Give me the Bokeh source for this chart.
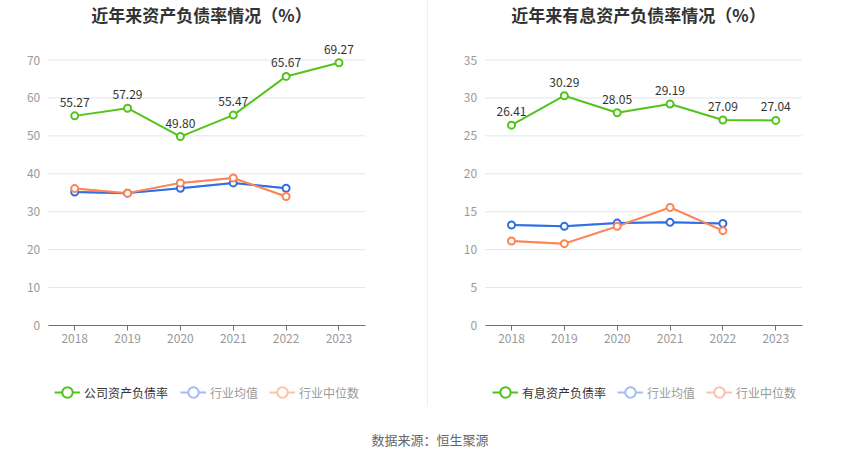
from bokeh.plotting import figure
from bokeh.models import (ColumnDataSource, LabelSet, Label, Legend, LegendItem,
                          Range1d, Div, FixedTicker)
from bokeh.layouts import row, column
from bokeh.core.properties import value
from bokeh.embed import file_html
from bokeh.resources import INLINE

years = ["2018", "2019", "2020", "2021", "2022", "2023"]
peer_years = ["2018", "2019", "2020", "2021", "2022"]

debt_ratio = [55.27, 57.29, 49.80, 55.47, 65.67, 69.27]
debt_avg = [35.2, 34.9, 36.2, 37.6, 36.2]
debt_median = [36.1, 34.9, 37.6, 38.9, 34.0]

int_ratio = [26.41, 30.29, 28.05, 29.19, 27.09, 27.04]
int_avg = [13.25, 13.07, 13.5, 13.6, 13.46]
int_median = [11.14, 10.79, 13.07, 15.57, 12.5]

FONT = "Noto Sans CJK SC"
GREEN = "#52c41a"
BLUE = "#2f6fe4"
ORANGE = "#ff8453"
LIGHT_BLUE = "#a3bcf3"
LIGHT_ORANGE = "#ffc0a9"

W, H = 425, 425
BAND = 52.85
FRAME_H = 265.5
ZERO_Y = 325.0


def make_chart(title, main_name, main, avg, med, ymax, step, ox, title_cx, legend_x, divider):
    unit = FRAME_H / ymax
    xd = lambda px: (px - ox) / BAND
    yd = lambda py: (ZERO_Y - py) / unit
    p = figure(width=W, height=H, x_range=Range1d(xd(0), xd(W)), y_range=Range1d(yd(H), yd(0)),
               output_backend="svg", toolbar_location=None,
               min_border=0, min_border_left=0, min_border_right=0,
               min_border_top=0, min_border_bottom=0)
    p.outline_line_color = None
    p.xgrid.visible = False
    p.ygrid.visible = False

    idx = list(range(len(years)))
    pidx = [years.index(y) for y in peer_years]
    yticks = list(range(0, ymax + 1, step))

    # horizontal grid lines across the category span
    p.segment(x0=[-0.5] * len(yticks), x1=[len(years) - 0.5] * len(yticks),
              y0=yticks, y1=yticks, line_color="#e0e6f1", line_width=1)

    xa = p.xaxis[0]
    xa.fixed_location = 0
    xa.bounds = (-0.5, len(years) - 0.5)
    xa.ticker = FixedTicker(ticks=idx)
    xa.major_label_overrides = {i: y for i, y in zip(idx, years)}
    xa.axis_line_color = "#6e7079"
    xa.major_tick_line_color = "#6e7079"
    xa.minor_tick_line_color = None
    xa.major_tick_out = 5
    xa.major_tick_in = 0
    xa.major_label_standoff = 3

    ya = p.yaxis[0]
    ya.fixed_location = -0.5
    ya.bounds = (0, ymax)
    ya.ticker = FixedTicker(ticks=yticks)
    ya.axis_line_color = None
    ya.major_tick_line_color = None
    ya.minor_tick_line_color = None
    ya.major_tick_out = 0
    ya.major_tick_in = 0
    ya.major_label_standoff = 8
    for ax in (xa, ya):
        ax.major_label_text_color = "#999999"
        ax.major_label_text_font_size = "12px"
        ax.major_label_text_font = FONT

    # faded line copies used only for the legend (hidden beneath the real lines)
    la_l = p.line(pidx, avg, line_color=LIGHT_BLUE, line_width=2)
    lm_l = p.line(pidx, med, line_color=LIGHT_ORANGE, line_width=2)

    # peer lines
    p.line(pidx, avg, line_color=BLUE, line_width=2)
    p.scatter(pidx, avg, marker="circle", size=7, fill_color="white",
              line_color=BLUE, line_width=2)
    p.line(pidx, med, line_color=ORANGE, line_width=2)
    p.scatter(pidx, med, marker="circle", size=7, fill_color="white",
              line_color=ORANGE, line_width=2)
    # main line
    mn_l = p.line(idx, main, line_color=GREEN, line_width=2)
    p.scatter(idx, main, marker="circle", size=7, fill_color="white",
              line_color=GREEN, line_width=2)

    # legend icons: hollow circles, hidden from the plot itself
    def icon(xs, ys, color):
        r = p.scatter(xs, ys, marker="circle", size=12, fill_color="white",
                      line_color=color, line_width=2)
        r.visible = False
        return r
    mn_i = icon(idx, main, GREEN)
    la_i = icon(pidx, avg, LIGHT_BLUE)
    lm_i = icon(pidx, med, LIGHT_ORANGE)

    src = ColumnDataSource(dict(x=idx, y=main, t=[f"{v:.2f}" for v in main]))
    p.add_layout(LabelSet(x="x", y="y", text="t", source=src, y_offset=9,
                          text_align="center", text_baseline="bottom",
                          text_font_size="12px", text_color="#333333",
                          text_font=value(FONT)))

    entries = [(main_name, [mn_l, mn_i], "#333333", legend_x[0]),
               ("行业均值", [la_l, la_i], "#999999", legend_x[1]),
               ("行业中位数", [lm_l, lm_i], "#999999", legend_x[2])]
    for name, rends, tc, xo in entries:
        lg = Legend(items=[LegendItem(label=name, renderers=rends)], location=(xo, H - 406),
                    orientation="horizontal", glyph_width=26, glyph_height=28,
                    label_height=14, label_standoff=4, padding=0, margin=0,
                    border_line_color=None, background_fill_alpha=0,
                    label_text_font_size="12px", label_text_color=tc,
                    label_text_font=FONT, click_policy="none")
        p.add_layout(lg)

    p.add_layout(Label(x=xd(title_cx), y=yd(14), text=title, text_align="center",
                       text_baseline="middle", text_font_size="17px",
                       text_font_style="bold", text_color="#333333", text_font=FONT))
    if divider:
        p.segment(x0=[xd(2)], x1=[xd(2)], y0=[yd(0)], y1=[yd(406)],
                  line_color="#eeeeee", line_width=1)
    return p


p1 = make_chart("近年来资产负债率情况（%）", "公司资产负债率", debt_ratio, debt_avg, debt_median,
                70, 10, 74.2, 201, (54, 180, 269), False)
p2 = make_chart("近年来有息资产负债率情况（%）", "有息资产负债率", int_ratio, int_avg, int_median,
                35, 5, 86.0, 213, (67, 192, 281), True)

src_div = Div(text='<div style="text-align:center;font-size:13px;color:#666666;'
                   'font-family:\'Noto Sans CJK SC\';line-height:20px;width:850px;">'
                   '数据来源：恒生聚源</div>', width=850, height=34)

layout = column(row(p1, p2), src_div)
open("out.html", "w").write(file_html(layout, INLINE))
